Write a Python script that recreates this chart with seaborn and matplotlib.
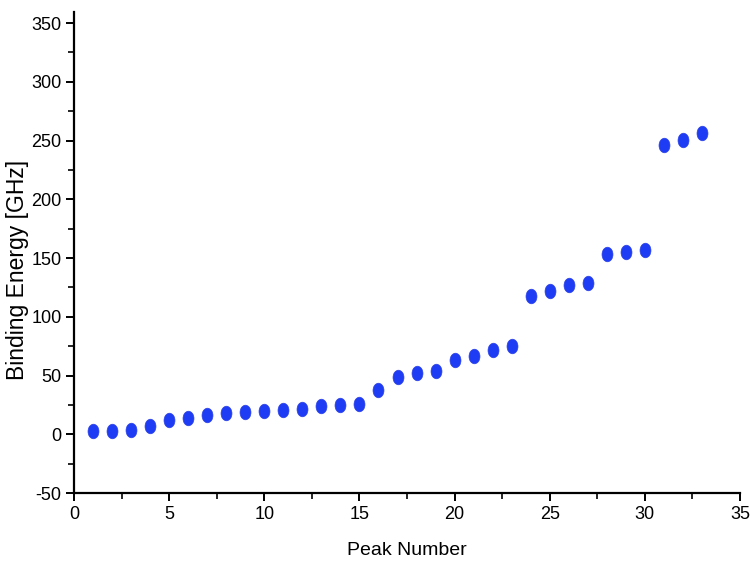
import numpy as np
import matplotlib
matplotlib.use("Agg")
import matplotlib.pyplot as plt
from matplotlib.path import Path
from matplotlib.ticker import MultipleLocator
import seaborn as sns
import pandas as pd

# values
peak_number = list(range(1, 34))
binding_energy = [2.5, 3.2, 3.4, 7.0, 12.5, 13.9, 16.7, 18.0, 19.0, 19.8,
                  21.0, 21.5, 23.8, 25.2, 26.0, 37.4, 48.7, 52.0, 53.8, 63.4,
                  66.8, 71.6, 75.0, 117.5, 121.7, 126.8, 129.0, 153.5, 155.4, 156.5,
                  246.2, 250.5, 256.2]

df = pd.DataFrame({"Peak Number": peak_number, "Binding Energy": binding_energy})

sns.set_style("ticks")
plt.rcParams['font.family'] = ['Liberation Sans', 'DejaVu Sans']
plt.rcParams['axes.unicode_minus'] = False

# slightly tall ellipse marker
circ = Path.unit_circle()
ell = Path(circ.vertices * np.array([0.75, 1.0]), circ.codes)

fig = plt.figure(figsize=(7.5, 5.63), dpi=100)
ax = fig.add_axes([0.0987, 0.1243, 0.888, 0.8535])

sns.scatterplot(data=df, x="Peak Number", y="Binding Energy", ax=ax,
                marker=ell, s=110, color="#1f3cf5", edgecolor="#2a40e8",
                linewidth=0.5, legend=False, zorder=3)

ax.set_xlim(0, 35)
ax.set_ylim(-50, 359)
ax.xaxis.set_major_locator(MultipleLocator(5))
ax.xaxis.set_minor_locator(MultipleLocator(2.5))
ax.yaxis.set_major_locator(MultipleLocator(50))
ax.yaxis.set_minor_locator(MultipleLocator(25))

for s in ["top", "right"]:
    ax.spines[s].set_visible(False)
for s in ["left", "bottom"]:
    ax.spines[s].set_linewidth(1.6)
    ax.spines[s].set_color("black")

ax.tick_params(which="major", direction="out", length=6, width=1.4,
               labelsize=13, pad=3, colors="black")
ax.tick_params(which="minor", direction="out", length=4, width=1.2, colors="black")

ax.set_xlabel("Peak Number", fontsize=14, labelpad=14, color="black")
ax.set_ylabel("Binding Energy [GHz]", fontsize=16.5, color="black")
ax.yaxis.set_label_coords(-0.068, 0.464)

fig.savefig("out.png", dpi=100)
